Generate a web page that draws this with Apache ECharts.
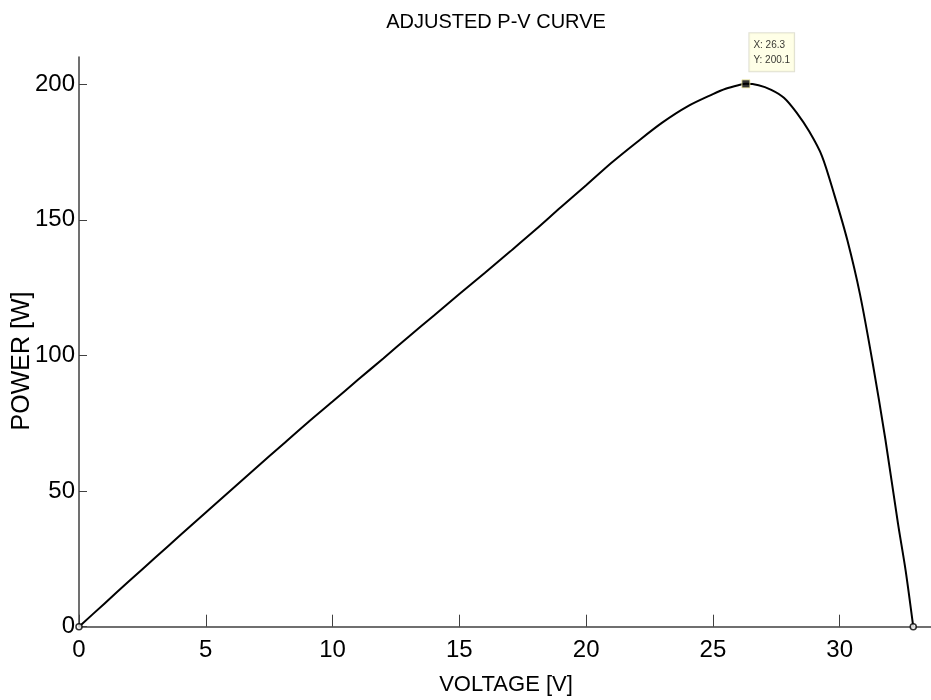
<!DOCTYPE html>
<html>
<head>
<meta charset="utf-8">
<script src="https://cdn.jsdelivr.net/npm/echarts@6/dist/echarts.min.js"></script>
<style>html,body{margin:0;padding:0;background:#fff;}#c{width:931px;height:700px;}</style>
</head>
<body>
<div id="c"></div>
<script>
const voltage = [0,1,2,3,4,5,6,7,8,9,10,11,12,13,14,15,16,17,18,19,20,21,22,23,24,25,25.5,26,26.3,26.8,27.3,27.8,28.3,28.8,29.3,29.8,30.3,30.8,31.3,31.8,32.3,32.6,32.9];
const power   = [0,8.5,17.0,25.4,33.8,42.1,50.4,58.7,66.9,75.1,83.0,91.0,98.9,106.9,114.7,122.6,130.4,138.3,146.3,154.6,162.7,171.0,178.6,185.8,191.8,196.3,198.3,199.6,200.1,199.6,197.9,195.0,189.5,182.5,173.5,158.8,142.5,122.5,97.2,69.1,37.9,20.7,0];
const xTicks = [0,5,10,15,20,25,30];
const yTicks = [0,50,100,150,200];
const peakV = 26.3;
const peakP = 200.1;

const sans = "'Liberation Sans',Arial,sans-serif";
const chart = echarts.init(document.getElementById('c'), null, {renderer:'canvas'});
const line = voltage.map((v,i)=>[v,power[i]]);
const last = voltage.length-1;
chart.setOption({
  animation:false,
  backgroundColor:'#fff',
  grid:{left:79, top:57, right:0, height:569.7},
  graphic:[
    {type:'text', style:{text:'ADJUSTED P-V CURVE', x:496, y:22, textAlign:'center', textVerticalAlign:'middle', font:"20px "+sans, fill:'#000'}},
    {type:'text', style:{text:'VOLTAGE [V]', x:506, y:685, textAlign:'center', textVerticalAlign:'middle', font:"22px "+sans, fill:'#000'}},
    {type:'text', rotation:Math.PI/2, x:22, y:361, style:{text:'POWER [W]', x:0, y:0, textAlign:'center', textVerticalAlign:'middle', font:"25px "+sans, fill:'#000'}}
  ],
  xAxis:{
    type:'value', min:0, max:33.6, interval:5,
    splitLine:{show:false},
    axisLine:{lineStyle:{color:'#404040', width:1.5}},
    axisTick:{inside:true, length:12, lineStyle:{color:'#404040'}},
    axisLabel:{color:'#000', fontFamily:sans, fontSize:24, margin:12, showMaxLabel:false,
      formatter:v=>xTicks.includes(v)?String(v):''}
  },
  yAxis:{
    type:'value', min:0, max:210, interval:50,
    splitLine:{show:false},
    axisLine:{show:true, lineStyle:{color:'#404040', width:1.5}},
    axisTick:{show:true, inside:true, length:8, lineStyle:{color:'#404040'}},
    axisLabel:{color:'#000', fontFamily:sans, fontSize:24, margin:4, showMaxLabel:false,
      formatter:v=>yTicks.includes(v)?String(v):''}
  },
  series:[
    {type:'line', data:line, showSymbol:false, smooth:0.3,
      lineStyle:{color:'#000', width:2}, clip:false, z:3},
    {type:'scatter', data:[line[0], line[last]], symbol:'circle', symbolSize:6,
      itemStyle:{color:'#fff', borderColor:'#000', borderWidth:1.5}, z:4},
    {type:'scatter', data:[[peakV,peakP]], symbol:'rect', symbolSize:8,
      itemStyle:{color:'#000', borderColor:'#f2eca0', borderWidth:1}, z:5,
      label:{show:true, position:[8,-46], formatter:p=>'X: '+p.value[0]+'\nY: '+p.value[1],
        fontFamily:sans, fontSize:10, lineHeight:15, color:'#000',
        backgroundColor:'#ffffe1', borderColor:'#d8d8c8', borderWidth:1, padding:[4,4,4,4]}}
  ]
});
</script>
</body>
</html>
